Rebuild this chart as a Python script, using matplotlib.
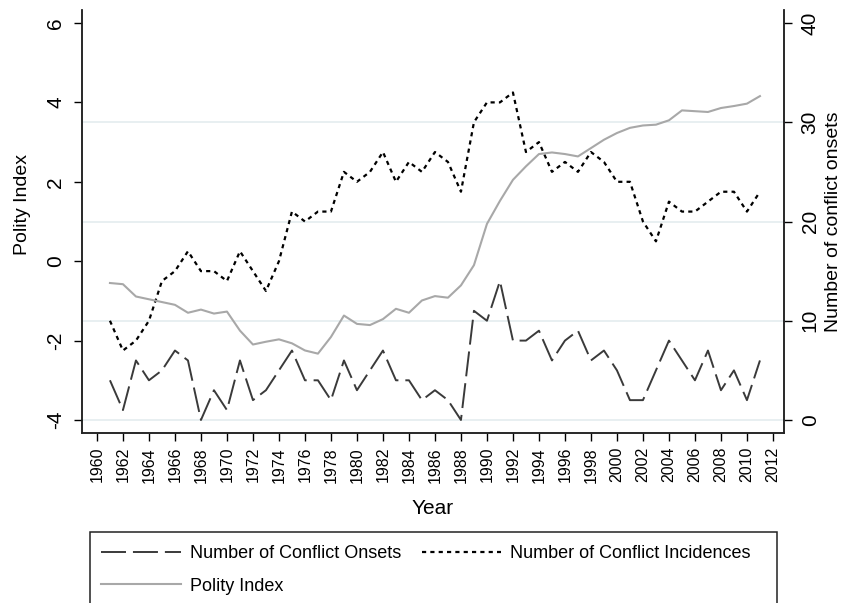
import matplotlib
matplotlib.use("Agg")
import matplotlib.pyplot as plt
from matplotlib.lines import Line2D
from matplotlib.patches import Rectangle
import numpy as np

plt.rcParams['font.family'] = ['Liberation Sans', 'DejaVu Sans']
plt.rcParams['lines.scale_dashes'] = False

years = np.arange(1961, 2012)

polity = [-0.55, -0.58, -0.89, -0.96, -1.03, -1.10, -1.30, -1.22, -1.32, -1.27,
          -1.75, -2.10, -2.03, -1.97, -2.07, -2.25, -2.33, -1.91, -1.37, -1.58,
          -1.61, -1.46, -1.20, -1.30, -0.99, -0.88, -0.92, -0.61, -0.10, 0.94,
          1.52, 2.05, 2.39, 2.70, 2.74, 2.70, 2.64, 2.85, 3.06, 3.23,
          3.36, 3.42, 3.44, 3.55, 3.80, 3.78, 3.76, 3.86, 3.91, 3.97,
          4.16]

incidences = [10, 7, 8, 10, 14, 15, 17, 15, 15, 14,
              17, 15, 13, 16, 21, 20, 21, 21, 25, 24,
              25, 27, 24, 26, 25, 27, 26, 23, 30, 32,
              32, 33, 27, 28, 25, 26, 25, 27, 26, 24,
              24, 20, 18, 22, 21, 21, 22, 23, 23, 21,
              23]

onsets = [4, 1, 6, 4, 5, 7, 6, 0, 3, 1,
          6, 2, 3, 5, 7, 4, 4, 2, 6, 3,
          5, 7, 4, 4, 2, 3, 2, 0, 11, 10,
          14, 8, 8, 9, 6, 8, 9, 6, 7, 5,
          2, 2, 5, 8, 6, 4, 7, 3, 5, 2,
          6]

xticks = np.arange(1960, 2013, 2)
left_ticks = [-4, -2, 0, 2, 4, 6]
right_ticks = [0, 10, 20, 30, 40]

W, H = 846, 603
fig = plt.figure(figsize=(W / 100, H / 100), dpi=100)
ax2 = fig.add_axes([82 / W, 1 - 433 / H, (784 - 82) / W, (433 - 10) / H])
ax1 = ax2.twinx()
# polity axis on the left, counts on the right
ax1.yaxis.tick_left()
ax1.yaxis.set_label_position('left')
ax2.yaxis.tick_right()
ax2.yaxis.set_label_position('right')

ax2.set_xlim(1958.85, 2012.85)
ax1.set_ylim(-4.33, 6.33)
ax2.set_ylim(-1.31, 41.31)

# light grid lines at right-axis ticks
for v in [0, 10, 20, 30]:
    ax2.axhline(v, color='#e4ecef', lw=1.2, zorder=0)

ax2.plot(years, onsets, color='#3a3a3a', lw=1.4, dashes=(18, 5), zorder=3)
ax2.plot(years, incidences, color='black', lw=1.6, dashes=(3, 3), zorder=3)
ax1.plot(years, polity, color='#a8a8a8', lw=1.5, zorder=2)

for a in (ax1, ax2):
    a.spines['top'].set_visible(False)
    for s in ('left', 'right', 'bottom'):
        a.spines[s].set_color('#222222')
        a.spines[s].set_linewidth(1.1)

ax2.set_xticks(xticks)
ax2.set_xticklabels([str(y) for y in xticks], rotation=90, fontsize=11.5)
ax2.tick_params(axis='x', length=6, width=1, direction='out', pad=4)

ax1.set_yticks(left_ticks)
ax1.set_yticklabels([str(t) for t in left_ticks], rotation=90, va='center', fontsize=15)
ax1.tick_params(axis='y', length=6, width=1, pad=6)

ax2.set_yticks(right_ticks)
ax2.set_yticklabels([str(t) for t in right_ticks], rotation=90, va='center', fontsize=15)
ax2.tick_params(axis='y', length=6, width=1, pad=6)

ax2.set_xlabel('Year', fontsize=15, labelpad=12)
ax1.set_ylabel('Polity Index', fontsize=14)
ax1.yaxis.set_label_coords((31 - 82) / (784 - 82), 0.54)
ax2.set_ylabel('Number of conflict onsets', fontsize=14, rotation=90)
ax2.yaxis.set_label_coords((825 - 82) / (784 - 82), 0.5)

# legend box, bottom runs off the figure
fig.patches.append(Rectangle((90 / W, -0.05), (777 - 90) / W, 0.05 + 1 - 532 / H,
                             transform=fig.transFigure, fill=False,
                             edgecolor='#222222', lw=1.1))
handles = [
    Line2D([], [], color='#3a3a3a', lw=1.4, dashes=(18, 5)),
    Line2D([], [], color='#a8a8a8', lw=1.5),
    Line2D([], [], color='black', lw=1.6, dashes=(3, 3)),
]
labels = ['Number of Conflict Onsets', 'Polity Index', 'Number of Conflict Incidences']
fig.legend(handles, labels, ncol=2, frameon=False, fontsize=13,
           loc='upper left', bbox_to_anchor=(94 / W, 1 - 538 / H),
           handlelength=4.4, handletextpad=0.5, columnspacing=1.15,
           labelspacing=0.85, borderaxespad=0)

fig.savefig('out.png', dpi=100)
